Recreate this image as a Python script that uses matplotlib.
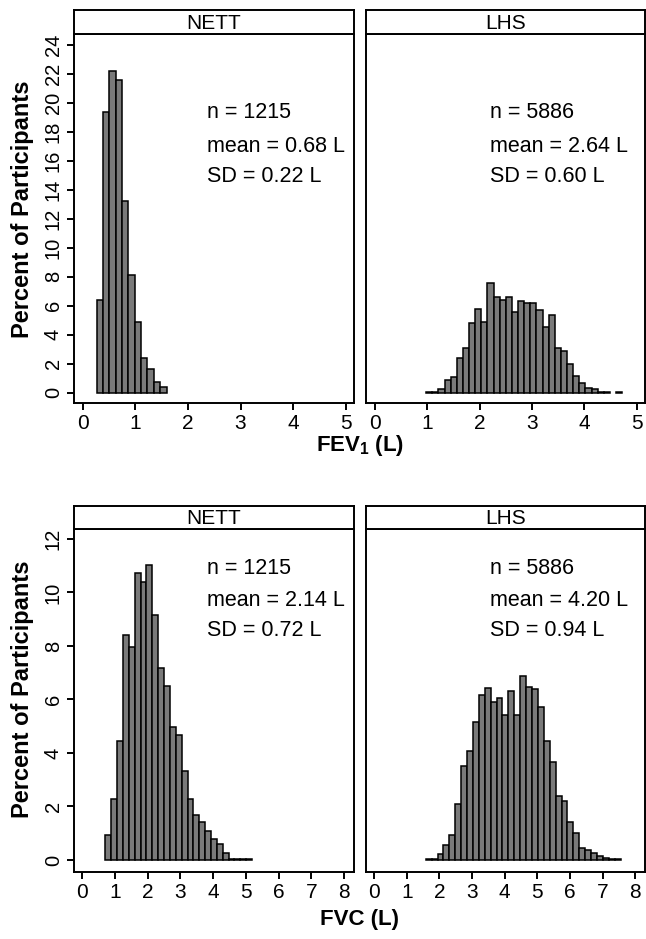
import numpy as np
import matplotlib.pyplot as plt

plt.rcParams['font.family'] = ['Liberation Sans', 'DejaVu Sans']
plt.rcParams['mathtext.fontset'] = 'custom'
plt.rcParams['mathtext.rm'] = 'Liberation Sans'
plt.rcParams['mathtext.bf'] = 'Liberation Sans:bold'

# FEV1 histograms (percent of participants per bin)
nett_fev1_start, nett_fev1_width = 0.26, 0.121
nett_fev1 = [6.4, 19.4, 22.2, 21.6, 13.2, 8.15, 4.9, 2.4, 1.65, 0.75, 0.4]

lhs_fev1_start, lhs_fev1_width = 0.98, 0.117
lhs_fev1 = [0.04, 0.06, 0.28, 0.9, 1.08, 2.43, 3.08, 4.8, 5.81, 4.87, 7.55, 6.59,
            6.4, 6.61, 5.6, 6.31, 6.22, 6.22, 5.72, 4.57, 5.35, 3.12, 2.89, 1.97,
            1.19, 0.67, 0.32, 0.28, 0.06, 0.04, 0.0, 0.04]

# FVC histograms
nett_fvc_start, nett_fvc_width = 0.71, 0.179
nett_fvc = [0.93, 2.26, 4.45, 8.4, 7.97, 10.72, 10.38, 11.04, 9.14, 7.16, 6.5,
            4.96, 4.68, 3.31, 2.26, 1.67, 1.41, 1.08, 0.77, 0.58, 0.27,
            0.05, 0.04, 0.04, 0.04]

lhs_fvc_start, lhs_fvc_width = 1.58, 0.181
lhs_fvc = [0.04, 0.05, 0.21, 0.56, 0.92, 2.11, 3.5, 4.06, 5.15, 6.17, 6.41, 5.92,
           6.07, 5.42, 6.33, 5.42, 6.89, 6.45, 6.39, 5.71, 4.43, 3.68, 2.38, 2.22,
           1.41, 0.99, 0.46, 0.37, 0.27, 0.15, 0.07, 0.05, 0.04]

groups = ['NETT', 'LHS']
stats = {
    ('fev1', 'NETT'): ['n = 1215', 'mean = 0.68 L', 'SD = 0.22 L'],
    ('fev1', 'LHS'): ['n = 5886', 'mean = 2.64 L', 'SD = 0.60 L'],
    ('fvc', 'NETT'): ['n = 1215', 'mean = 2.14 L', 'SD = 0.72 L'],
    ('fvc', 'LHS'): ['n = 5886', 'mean = 4.20 L', 'SD = 0.94 L'],
}

hist = {
    ('fev1', 'NETT'): (nett_fev1_start, nett_fev1_width, nett_fev1),
    ('fev1', 'LHS'): (lhs_fev1_start, lhs_fev1_width, lhs_fev1),
    ('fvc', 'NETT'): (nett_fvc_start, nett_fvc_width, nett_fvc),
    ('fvc', 'LHS'): (lhs_fvc_start, lhs_fvc_width, lhs_fvc),
}

W, H = 646, 939
fig = plt.figure(figsize=(W / 100, H / 100), dpi=100)

# panel boxes in pixels: (left, right), (top, bottom, strip top)
cols = [(74, 354), (366, 645)]
rows = {'fev1': (34, 403, 10), 'fvc': (529, 872, 506)}
ylims = {'fev1': (-0.7, 24.75), 'fvc': (-0.45, 12.37)}
xlims = {'fev1': (-0.17, 5.16), 'fvc': (-0.25, 8.3)}
yticks = {'fev1': np.arange(0, 25, 2), 'fvc': np.arange(0, 13, 2)}
xticks = {'fev1': np.arange(0, 6), 'fvc': np.arange(0, 9)}
text_y = {'fev1': [113, 146, 177], 'fvc': [568, 600, 631]}
text_x = {'NETT': 207, 'LHS': 490}

lw = 1.4
for var in ['fev1', 'fvc']:
    top, bot, strip_top = rows[var]
    for j, g in enumerate(groups):
        l, r = cols[j]
        ax = fig.add_axes([l / W, 1 - bot / H, (r - l) / W, (bot - top) / H])
        start, width, vals = hist[(var, g)]
        vals = np.array(vals)
        lefts = start + width * np.arange(len(vals))
        keep = vals > 0
        ax.bar(lefts[keep], vals[keep], width=width, align='edge',
               color='#7a7a7a', edgecolor='black', linewidth=1.1)
        ax.set_xlim(*xlims[var])
        ax.set_ylim(*ylims[var])
        ax.set_xticks(xticks[var])
        if j == 0:
            ax.set_yticks(yticks[var])
            ax.set_yticklabels([str(v) for v in yticks[var]], rotation=90,
                               va='center', fontsize=14.5)
        else:
            ax.set_yticks([])
        ax.tick_params(axis='x', direction='out', length=5, width=lw,
                       labelsize=15, pad=3)
        ax.tick_params(axis='y', direction='out', length=5, width=lw,
                       pad=3, labelsize=14.5)
        for s in ax.spines.values():
            s.set_linewidth(lw)
        for k, t in enumerate(stats[(var, g)]):
            fig.text(text_x[g] / W, 1 - text_y[var][k] / H, t,
                     fontsize=15.5, va='center', ha='left')
        # strip header
        sax = fig.add_axes([l / W, 1 - top / H, (r - l) / W, (top - strip_top) / H])
        sax.set_xticks([])
        sax.set_yticks([])
        for s in sax.spines.values():
            s.set_linewidth(lw)
        sax.text(0.5, 0.45, g, transform=sax.transAxes, ha='center',
                 va='center', fontsize=15)

fig.text(360 / W, 1 - 446 / H, r'FEV$_\mathbf{1}$ (L)', ha='center', va='center',
         fontsize=16, fontweight='bold')
fig.text(360 / W, 1 - 920 / H, 'FVC (L)', ha='center', va='center',
         fontsize=16, fontweight='bold')
fig.text(23 / W, 1 - 209 / H, 'Percent of Participants', rotation=90,
         ha='center', va='center', fontsize=17, fontweight='bold')
fig.text(23 / W, 1 - 689 / H, 'Percent of Participants', rotation=90,
         ha='center', va='center', fontsize=17, fontweight='bold')

fig.savefig('out.png', dpi=100, facecolor='white')
